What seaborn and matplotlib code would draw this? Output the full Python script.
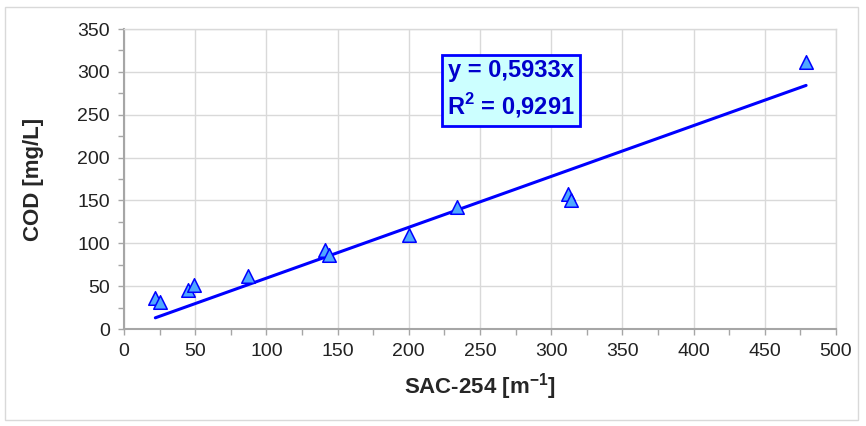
import matplotlib
matplotlib.use("Agg")
import matplotlib.pyplot as plt
from matplotlib.ticker import MultipleLocator
import seaborn as sns
import pandas as pd

sac254 = [22, 25, 45, 49, 87, 141, 144, 200, 234, 312, 314, 479]
cod = [36, 32, 46, 51, 62, 92, 86, 110, 142, 157, 151, 311]
slope = 0.5933
trend_x = [22, 479]
x_ticks = [0, 50, 100, 150, 200, 250, 300, 350, 400, 450, 500]
y_ticks = [0, 50, 100, 150, 200, 250, 300, 350]

sns.set_theme(style="white")
plt.rcParams['font.family'] = ['Liberation Sans', 'DejaVu Sans']

df = pd.DataFrame({"SAC": sac254, "COD": cod})
trend = pd.DataFrame({"x": trend_x, "y": [slope * v for v in trend_x]})

fig = plt.figure(figsize=(8.66, 4.26), dpi=100)
ax = fig.add_axes([124/866, 1-329/426, (836-124)/866, (329-29)/426])

# outer chart border
fig.patches.append(plt.Rectangle((5/866, 6/426), 853/866, 413/426, transform=fig.transFigure,
                                 fill=False, edgecolor="#d9d9d9", linewidth=1.0))

sns.lineplot(data=trend, x="x", y="y", ax=ax, color="#0000ff", linewidth=2.2, zorder=3)
sns.scatterplot(data=df, x="SAC", y="COD", ax=ax, marker="^", s=95, color="#4fa8ff",
                edgecolor="#0000ff", linewidth=1.1, zorder=4)

ax.set_xlim(0, 500)
ax.set_ylim(0, 350)
ax.set_xticks(x_ticks)
ax.set_yticks(y_ticks)
ax.xaxis.set_minor_locator(MultipleLocator(25))
ax.yaxis.set_minor_locator(MultipleLocator(25))
ax.grid(True, which="major", color="#d9d9d9", linewidth=1.0)
ax.set_axisbelow(True)

for s in ["top", "right"]:
    ax.spines[s].set_color("#d9d9d9")
    ax.spines[s].set_linewidth(1.0)
for s in ["left", "bottom"]:
    ax.spines[s].set_color("#a6a6a6")
    ax.spines[s].set_linewidth(1.5)

ax.tick_params(axis="both", which="major", labelsize=14, labelcolor="#222222", pad=6)
ax.tick_params(axis="both", which="both", direction="out")
ax.tick_params(axis="x", which="both", bottom=True, length=4, color="#a6a6a6", width=1)
ax.tick_params(axis="y", which="both", left=True, length=4, color="#a6a6a6", width=1)

ax.set_xlabel("SAC-254 [m$^{\\mathregular{-1}}$]", fontsize=16, fontweight="bold", labelpad=8)
ax.set_ylabel("COD [mg/L]", fontsize=16, fontweight="bold", labelpad=24)

ax.text(271.5, 279, "y = 0,5933x\nR$^{\\mathregular{2}}$ = 0,9291", ha="center", va="center",
        fontsize=17, fontweight="bold", color="#0000cc",
        linespacing=1.4,
        bbox=dict(boxstyle="square,pad=0.22", facecolor="#ccffff", edgecolor="#0000ff", linewidth=2),
        zorder=5)

fig.savefig("out.png", dpi=100)
